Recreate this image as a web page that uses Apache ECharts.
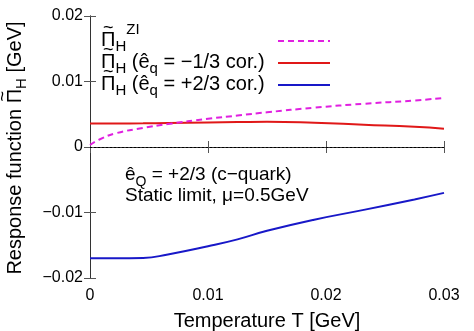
<!DOCTYPE html>
<html>
<head>
<meta charset="utf-8">
<script src="https://cdn.jsdelivr.net/npm/echarts@6/dist/echarts.min.js"></script>
<style>
  html, body { margin: 0; padding: 0; background: #fff; }
  #chart { width: 474px; height: 331px; }
</style>
</head>
<body>
<div id="chart"></div>
<script>
// Temperature grid [GeV]
const temperature = [0, 0.0008, 0.0022, 0.0045, 0.0066, 0.01, 0.0125, 0.015, 0.019, 0.0232, 0.0275, 0.03];
// Response functions [GeV]
const piZI      = [0.0003, 0.00115, 0.0021, 0.0029, 0.0035, 0.0043, 0.0048, 0.0053, 0.0060, 0.0066, 0.0071, 0.0075];
const piMinus13 = [0.0036, 0.0036, 0.0036, 0.00362, 0.00367, 0.00375, 0.0038, 0.00385, 0.0037, 0.0034, 0.0031, 0.0028];
const piPlus23  = [-0.0170, -0.0170, -0.0170, -0.01695, -0.0164, -0.01515, -0.0141, -0.0128, -0.0111, -0.0096, -0.0080, -0.0070];

const xTickLabels = ['0', '0.01', '0.02', '0.03'];
const yTickLabels = ['\u22120.02', '\u22120.01', '0', '0.01', '0.02'];

const FONT = '"Liberation Sans", Arial, Helvetica, sans-serif';
const COL_ZI = '#e020e0';
const COL_RED = '#e01818';
const COL_BLUE = '#1818c8';

function pairs(ys) { return temperature.map((t, i) => [t, ys[i]]); }

// ---- small typesetting helper: lays out pieces of text with sub/superscripts ----
const measureCtx = document.createElement('canvas').getContext('2d');
function textWidth(t, size) {
  measureCtx.font = size + 'px ' + FONT;
  return measureCtx.measureText(t).width;
}
function txt(t, x, y, size, align) {
  return {
    type: 'text', x: x, y: y, silent: true,
    style: { text: t, font: size + 'px ' + FONT, fill: '#000',
             align: align || 'left', verticalAlign: 'middle',
             textAlign: align || 'left', textVerticalAlign: 'middle' }
  };
}
// pieces: strings are normal text; {sub: '..'} subscript; {sup: '..'} superscript; {tildePi: true}
function typeset(pieces, x0, cy, base) {
  const out = [];
  let x = x0;
  const small = Math.round(base * 0.74);
  pieces.forEach(p => {
    if (typeof p === 'string') {
      out.push(txt(p, x, cy, base));
      x += textWidth(p, base);
    } else if (p.sub !== undefined) {
      out.push(txt(p.sub, x, cy + base * 0.36, small));
      x += textWidth(p.sub, small);
    } else if (p.sup !== undefined) {
      out.push(txt(p.sup, x, cy - base * 0.5, small));
      x += textWidth(p.sup, small);
    } else if (p.tildePi) {
      const w = textWidth('\u03A0', base);
      out.push(txt('\u03A0', x, cy, base));
      out.push(txt('~', x + w / 2, cy - base * 0.62, Math.round(base * 0.9), 'center'));
      x += w;
    }
  });
  return { children: out, width: x - x0 };
}

const legendRows = [
  { pieces: [{ tildePi: true }, { sub: 'H' }, { sup: 'ZI' }], color: COL_ZI, dash: [6, 4], y: 40 },
  { pieces: [{ tildePi: true }, { sub: 'H' }, ' (\u00EA', { sub: 'q' }, ' = \u22121/3 cor.)'], color: COL_RED, dash: null, y: 62 },
  { pieces: [{ tildePi: true }, { sub: 'H' }, ' (\u00EA', { sub: 'q' }, ' = +2/3 cor.)'], color: COL_BLUE, dash: null, y: 84 }
];

const graphics = [];
legendRows.forEach(r => {
  typeset(r.pieces, 101, r.y, 20).children.forEach(c => graphics.push(c));
  graphics.push({ type: 'line', silent: true, shape: { x1: 278, y1: r.y + 1, x2: 330, y2: r.y + 1 },
    style: { stroke: r.color, lineWidth: 2, lineDash: r.dash || null } });
});

// annotation block
typeset(['\u00EA', { sub: 'Q' }, ' = +2/3 (c\u2212quark)'], 125, 175, 19).children.forEach(c => graphics.push(c));
graphics.push(txt('Static limit, \u03BC=0.5GeV', 125, 196, 19));

// vertical axis title, set as a rotated group
const yTitle = typeset(['Response function ', { tildePi: true }, { sub: 'H' }, ' [GeV]'], 0, 0, 20);
graphics.push({
  type: 'group', x: 15, y: 148 + yTitle.width / 2, rotation: Math.PI / 2,
  children: yTitle.children
});

const chart = echarts.init(document.getElementById('chart'), null, { renderer: 'canvas' });

const axisLine = { show: true, lineStyle: { color: '#333', width: 1 } };
const tick = { show: true, inside: true, length: 6, lineStyle: { color: '#555', width: 1 } };

chart.setOption({
  animation: false,
  backgroundColor: '#fff',
  grid: { left: 90, right: 30, top: 16, bottom: 53, containLabel: false, outerBoundsMode: 'none' },
  xAxis: [{
    type: 'value', min: 0, max: 0.03, interval: 0.01,
    axisLine: axisLine, axisTick: tick, splitLine: { show: false },
    axisLabel: {
      fontFamily: FONT, fontSize: 16, color: '#000', margin: 10,
      formatter: (v) => xTickLabels[Math.round(v / 0.01)]
    },
    name: 'Temperature T [GeV]', nameLocation: 'middle', nameGap: 33,
    nameTextStyle: { fontFamily: FONT, fontSize: 20, color: '#000' }
  }, {
    type: 'value', position: 'top', min: 0, max: 0.03, interval: 0.01,
    axisLine: axisLine, axisTick: tick, axisLabel: { show: false }, splitLine: { show: false }
  }],
  yAxis: [{
    type: 'value', min: -0.02, max: 0.02, interval: 0.01,
    axisLine: axisLine, axisTick: tick, splitLine: { show: false },
    axisLabel: {
      fontFamily: FONT, fontSize: 16, color: '#000', margin: 7,
      formatter: (v) => yTickLabels[Math.round((v + 0.02) / 0.01)]
    }
  }, {
    type: 'value', position: 'right', min: -0.02, max: 0.02, interval: 0.01,
    axisLine: axisLine, axisTick: tick, axisLabel: { show: false }, splitLine: { show: false }
  }],
  series: [{
    type: 'line', name: 'ZI', data: pairs(piZI), showSymbol: false, smooth: true,
    lineStyle: { color: COL_ZI, width: 2, type: [6, 4] }, z: 3,
    markLine: {
      silent: true, symbol: 'none', label: { show: false },
      lineStyle: { color: '#000', width: 1, type: [2, 2] },
      data: [{ yAxis: 0 }]
    }
  }, {
    type: 'line', name: 'minus13', data: pairs(piMinus13), showSymbol: false, smooth: true,
    lineStyle: { color: COL_RED, width: 2 }, z: 2
  }, {
    type: 'line', name: 'plus23', data: pairs(piPlus23), showSymbol: false, smooth: true,
    lineStyle: { color: COL_BLUE, width: 2 }, z: 2
  }],
  graphic: graphics
});
</script>
</body>
</html>
